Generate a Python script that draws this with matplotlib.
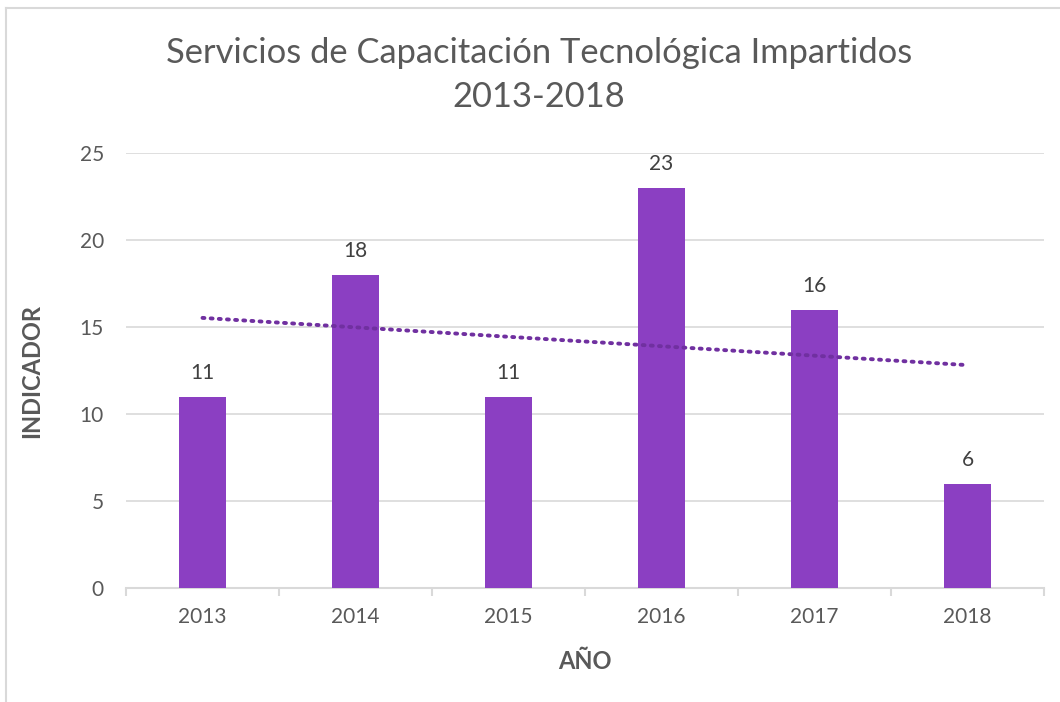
import numpy as np
import matplotlib
matplotlib.use("Agg")
import matplotlib.pyplot as plt
from matplotlib.lines import Line2D

# data
years = ["2013", "2014", "2015", "2016", "2017", "2018"]
values = [11, 18, 11, 23, 16, 6]
y_ticks = [0, 5, 10, 15, 20, 25]

bar_color = "#8B3FC2"
trend_color = "#7030A0"
text_color = "#595959"
grid_color = "#D9D9D9"

plt.rcParams['font.family'] = ['Lato', 'DejaVu Sans']

fig = plt.figure(figsize=(10.6, 7.02), dpi=100)
ax = fig.add_axes([126 / 1060, 1 - 588 / 702, (1044 - 126) / 1060, (588 - 153) / 702])

x = np.arange(len(years))
ax.bar(x, values, width=0.31, color=bar_color, zorder=3)

# linear trend line (like Excel's trendline)
coef = np.polyfit(x, values, 1)
trend = np.polyval(coef, x)
ax.plot(x, trend, linestyle=(0, (0.5, 1.6)), dash_capstyle='round', linewidth=2.8,
        color=trend_color, zorder=4)

# data labels
for xi, v in zip(x, values):
    ax.annotate(str(v), (xi, v), xytext=(0, 10), textcoords='offset points',
                ha='center', va='bottom', fontsize=15, color="#404040")

ax.set_xlim(-0.5, len(years) - 0.5)
ax.set_ylim(0, 25)
ax.set_yticks(y_ticks)
ax.set_yticklabels([str(t) for t in y_ticks], fontsize=15, color=text_color)
ax.set_xticks(x)
ax.set_xticklabels(years, fontsize=15, color=text_color)
ax.set_xticks(np.arange(len(years) + 1) - 0.5, minor=True)
ax.tick_params(axis='x', which='major', length=0, pad=14)
ax.tick_params(axis='x', which='minor', length=6, color=grid_color, width=1.5)
ax.tick_params(axis='y', length=0, pad=16)

ax.grid(axis='y', color=grid_color, linewidth=1.2, zorder=0)
for s in ['top', 'right', 'left']:
    ax.spines[s].set_visible(False)
ax.spines['bottom'].set_color(grid_color)
ax.spines['bottom'].set_linewidth(1.5)

ax.set_xlabel("AÑO", fontsize=17, fontweight='bold', color=text_color, labelpad=16)
ax.set_ylabel("INDICADOR", fontsize=17, fontweight='bold', color=text_color, labelpad=26)

fig.text(539 / 1060, 1 - 53 / 702, "Servicios de Capacitación Tecnológica Impartidos",
         ha='center', va='center', fontsize=24.8, color=text_color)
fig.text(539 / 1060, 1 - 97 / 702, "2013-2018",
         ha='center', va='center', fontsize=24.8, color=text_color)

# chart border
fig.add_artist(Line2D([6 / 1060, 6 / 1060], [0, 1 - 8 / 702], color=grid_color, linewidth=1.5))
fig.add_artist(Line2D([6 / 1060, 1], [1 - 8 / 702, 1 - 8 / 702], color=grid_color, linewidth=1.5))

fig.savefig("out.png", dpi=100)
